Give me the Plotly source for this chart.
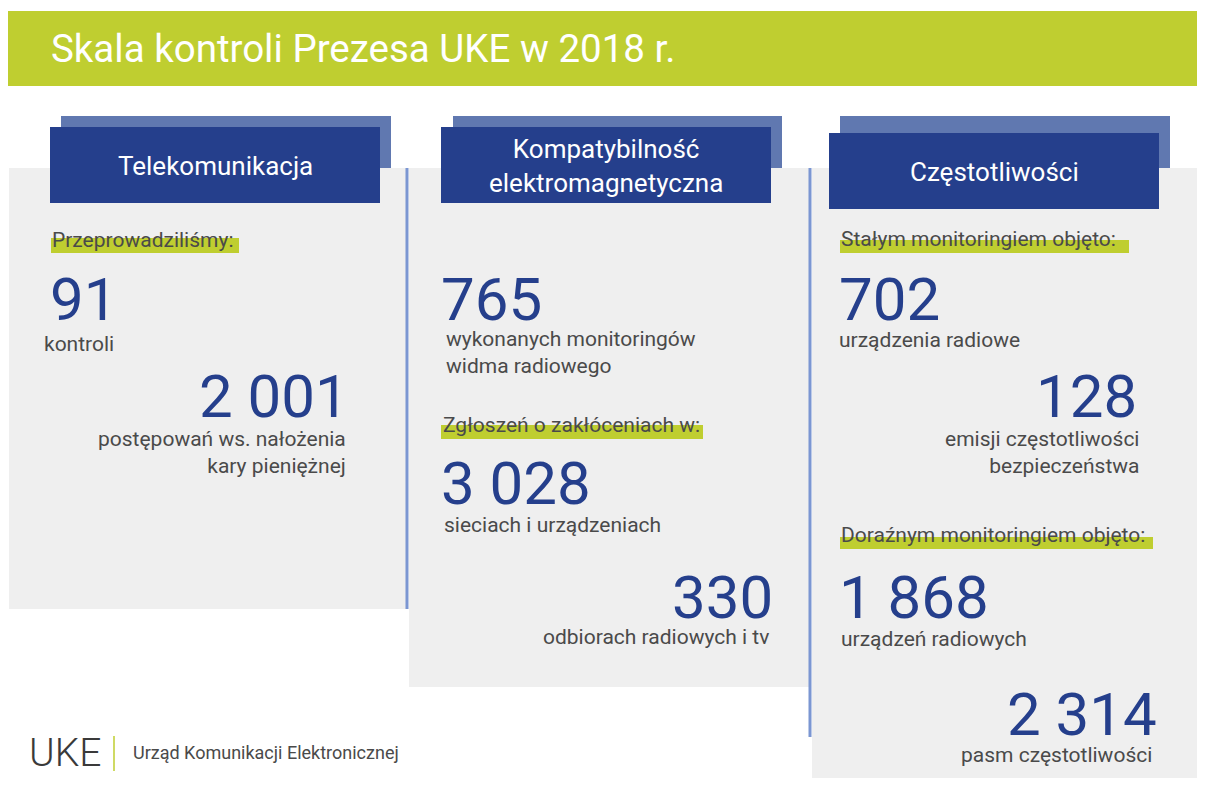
import plotly.graph_objects as go

W, H = 1205, 786
PAGE_MARGIN = 8  # browser body margin; axes ranges compensate so coords == page pixels

title = "Skala kontroli Prezesa UKE w 2018 r."
headers = ["Telekomunikacja", "Kompatybilność<br>elektromagnetyczna", "Częstotliwości"]
section_labels = ["Przeprowadziliśmy:", "Zgłoszeń o zakłóceniach w:",
                  "Stałym monitoringiem objęto:", "Doraźnym monitoringiem objęto:"]
values = [91, 2001, 765, 3028, 330, 702, 128, 1868, 2314]
value_labels = ["kontroli", "postępowań ws. nałożenia<br>kary pieniężnej",
                "wykonanych monitoringów<br>widma radiowego", "sieciach i urządzeniach",
                "odbiorach radiowych i tv", "urządzenia radiowe",
                "emisji częstotliwości<br>bezpieczeństwa", "urządzeń radiowych",
                "pasm częstotliwości"]
footer_logo = "UKE"
footer_text = "Urząd Komunikacji Elektronicznej"

# ---- style / layout (positions in pixel space) ----
GREEN = "#bfce30"
DARK = "#253f8c"
LIGHT = "#6078b0"
GREY = "#efefef"
LINE = "#7b96d2"
TXT = "#4a4a4a"
FONT = "Roboto"

panels = [(9, 168, 407, 609), (409, 168, 811, 687), (812, 168, 1210, 790)]
back_rects = [(61, 116, 391, 168), (453, 116, 782, 168), (840, 116, 1170, 168)]
front_rects = [(50, 127, 380, 203), (441, 127, 771, 203), (829, 133, 1159, 209)]
vlines = [(407, 168, 609), (810, 168, 737)]
hl = [(51, 238, 239, 253), (441, 425, 703, 439), (840, 240, 1129, 253), (840, 537, 1153, 549)]
hl_text_pos = [(50, 240), (441, 425), (839, 239), (839, 535)]
val_pos = [(48, 299, "left"), (351, 396, "right"), (439, 299, "left"), (439, 483, "left"),
           (775, 597, "right"), (837, 299, "left"), (1139, 396, "right"),
           (837, 597, "left"), (1159, 714, "right")]
lab_pos = [(42, 344, "left"), (348, 452, "right"), (444, 352, "left"), (442, 525, "left"),
           (771, 637, "right"), (837, 340, "left"), (1141, 452, "right"),
           (839, 639, "left"), (1154, 755, "right")]

fig = go.Figure()
fig.add_trace(go.Scatter(x=[PAGE_MARGIN, W - PAGE_MARGIN], y=[PAGE_MARGIN, H - PAGE_MARGIN],
                         mode="markers", marker=dict(opacity=0),
                         hoverinfo="skip", showlegend=False))

shapes = []
def rect(x0, y0, x1, y1, color):
    shapes.append(dict(type="rect", xref="x", yref="y", x0=x0, y0=y0, x1=x1, y1=y1,
                       fillcolor=color, line=dict(width=0), layer="below"))

rect(7, 11, 1210, 86, GREEN)
for p in panels:
    rect(*p, GREY)
for r in back_rects:
    rect(*r, LIGHT)
for r in front_rects:
    rect(*r, DARK)
for x, y0, y1 in vlines:
    shapes.append(dict(type="line", xref="x", yref="y", x0=x, x1=x, y0=y0, y1=y1,
                       line=dict(color=LINE, width=3), layer="below"))
for r in hl:
    rect(*r, GREEN)
shapes.append(dict(type="line", xref="x", yref="y", x0=114, x1=114, y0=736, y1=771,
                   line=dict(color=GREEN, width=1.5)))

ann = []
ann.append(dict(x=49, y=48, text=title, xanchor="left", yanchor="middle", showarrow=False,
                font=dict(family=FONT, size=38.5, color="white")))
for (x0, y0, x1, y1), t in zip(front_rects, headers):
    ann.append(dict(x=(x0 + x1) / 2, y=(y0 + y1) / 2 + 1, text=t, xanchor="center",
                    yanchor="middle", showarrow=False, align="center",
                    font=dict(family=FONT, size=26, color="white")))
for (x, y), t in zip(hl_text_pos, section_labels):
    ann.append(dict(x=x, y=y, text=t, xanchor="left", yanchor="middle", showarrow=False,
                    font=dict(family=FONT, size=21, color=TXT)))
for (x, y, a), v in zip(val_pos, values):
    ann.append(dict(x=x, y=y, text=f"{v:,}".replace(",", " "), xanchor=a, yanchor="middle",
                    showarrow=False, font=dict(family=FONT, size=60, color=DARK)))
for (x, y, a), t in zip(lab_pos, value_labels):
    ann.append(dict(x=x, y=y, text=t, xanchor=a, yanchor="middle", showarrow=False,
                    align=a, font=dict(family=FONT, size=21, color=TXT)))
ann.append(dict(x=27, y=753, text=footer_logo, xanchor="left", yanchor="middle",
                showarrow=False, font=dict(family=FONT, size=39, color="#3a3a3a", weight=300)))
ann.append(dict(x=131, y=752, text=footer_text, xanchor="left", yanchor="middle",
                showarrow=False, font=dict(family=FONT, size=18, color=TXT)))

fig.update_layout(
    width=W - 2 * PAGE_MARGIN, height=H - 2 * PAGE_MARGIN, margin=dict(l=0, r=0, t=0, b=0),
    paper_bgcolor="white", plot_bgcolor="white",
    xaxis=dict(range=[PAGE_MARGIN, W - PAGE_MARGIN], visible=False, fixedrange=True),
    yaxis=dict(range=[H - PAGE_MARGIN, PAGE_MARGIN], visible=False, fixedrange=True),
    shapes=shapes, annotations=ann, showlegend=False,
)
fig.write_html("out.html")
